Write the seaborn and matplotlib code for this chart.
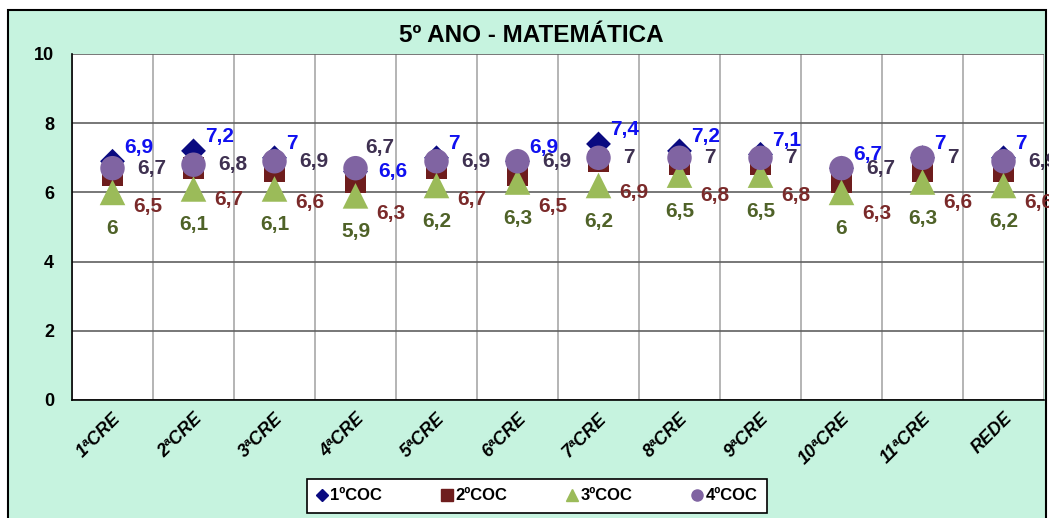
import numpy as np
import pandas as pd
import seaborn as sns
import matplotlib.pyplot as plt
from matplotlib.lines import Line2D
from matplotlib.patches import Rectangle

categorias = ["1ªCRE", "2ªCRE", "3ªCRE", "4ªCRE", "5ªCRE", "6ªCRE",
              "7ªCRE", "8ªCRE", "9ªCRE", "10ªCRE", "11ªCRE", "REDE"]
coc1 = [6.9, 7.2, 7.0, 6.6, 7.0, 6.9, 7.4, 7.2, 7.1, 6.7, 7.0, 7.0]
coc2 = [6.5, 6.7, 6.6, 6.3, 6.7, 6.5, 6.9, 6.8, 6.8, 6.3, 6.6, 6.6]
coc3 = [6.0, 6.1, 6.1, 5.9, 6.2, 6.3, 6.2, 6.5, 6.5, 6.0, 6.3, 6.2]
coc4 = [6.7, 6.8, 6.9, 6.7, 6.9, 6.9, 7.0, 7.0, 7.0, 6.7, 7.0, 6.9]
series = ["1ºCOC", "2ºCOC", "3ºCOC", "4ºCOC"]

df = pd.DataFrame({"cre": categorias * 4,
                   "nota": coc1 + coc2 + coc3 + coc4,
                   "serie": np.repeat(series, len(categorias))})

estilo = {
    "1ºCOC": dict(marker="D", s=160, cor="#0a0a80", txt="#1010f0", off=(12, 14), ha="left"),
    "2ºCOC": dict(marker="s", s=240, cor="#6e1d1d", txt="#7a2a2a", off=(21, -31), ha="left"),
    "3ºCOC": dict(marker="^", s=340, cor="#9bbb59", txt="#4f6228", off=(0, -36), ha="center"),
    "4ºCOC": dict(marker="o", s=310, cor="#8064a2", txt="#3f3151", off=(25, 0), ha="left"),
}
# rótulos trocados na 4ªCRE
troca = {("1ºCOC", 3): (23, 0), ("4ºCOC", 3): (10, 21)}

sns.set_style("white")
plt.rcParams["font.family"] = ["Liberation Sans", "DejaVu Sans"]
plt.rcParams["text.color"] = "black"
plt.rcParams["xtick.color"] = "black"
plt.rcParams["ytick.color"] = "black"

fig = plt.figure(figsize=(10.49, 5.18), dpi=100)
fig.patch.set_facecolor("white")
fundo = Rectangle((8 / 1049, -0.01), 1038 / 1049, 1 - 10 / 518 + 0.01,
                  transform=fig.transFigure, facecolor="#c6f3df",
                  edgecolor="black", linewidth=1.5, zorder=-5)
fig.patches.append(fundo)
ax = fig.add_axes([72 / 1049, 1 - 400 / 518, 972 / 1049, 346 / 518])
ax.set_zorder(2)
ax.set_facecolor("white")

for nome in series:
    e = estilo[nome]
    sub = df[df["serie"] == nome]
    sns.scatterplot(data=sub, x="cre", y="nota", marker=e["marker"], s=e["s"],
                    color=e["cor"], edgecolor="none", ax=ax, zorder=3, legend=False)
    for i, v in enumerate(sub["nota"]):
        off = troca.get((nome, i), e["off"])
        txt = f"{v:g}".replace(".", ",")
        ax.annotate(txt, (i, v), xytext=off, textcoords="offset pixels",
                    ha=e["ha"] if (nome, i) not in troca else "left", va="center",
                    color=e["txt"], fontsize=15, fontweight="bold",
                    annotation_clip=False, zorder=4)

ax.set_xlim(-0.5, 11.5)
ax.set_ylim(0, 10)
ax.set_yticks(range(0, 11, 2))
ax.set_xticks(range(len(categorias)))
ax.set_xticklabels(categorias, rotation=45, ha="right", rotation_mode="anchor",
                   fontsize=13, fontweight="bold", fontstyle="italic")
ax.set_xticks(np.arange(-0.5, 12, 1), minor=True)
ax.tick_params(axis="x", which="major", length=0, pad=7)
ax.tick_params(axis="x", which="minor", length=5, color="black", direction="out")
ax.tick_params(axis="y", length=5, color="black", direction="out", labelsize=13, pad=8)
for lab in ax.get_yticklabels():
    lab.set_fontweight("bold")
ax.grid(axis="y", which="major", color="#606060", linewidth=1.2)
ax.grid(axis="x", which="minor", color="#a8a8a8", linewidth=1.2)
ax.set_axisbelow(True)
for lado in ["top", "right"]:
    ax.spines[lado].set_visible(False)
for lado in ["left", "bottom"]:
    ax.spines[lado].set_color("black")
    ax.spines[lado].set_linewidth(1.2)
ax.set_xlabel("")
ax.set_ylabel("")

fig.text(531 / 1049, 1 - 35 / 518, "5º ANO - MATEMÁTICA", ha="center", va="center",
         fontsize=17.5, fontweight="bold")

handles = [Line2D([], [], linestyle="none", marker=estilo[n]["marker"],
                  color=estilo[n]["cor"], markersize=8 if n != "1ºCOC" else 6)
           for n in series]
leg = fig.legend(handles, series, loc="center", bbox_to_anchor=(537 / 1049, 1 - 496 / 518),
                 ncol=4, frameon=True, fancybox=False, edgecolor="black", framealpha=1,
                 handlelength=0.6, handletextpad=0.2, columnspacing=3.6, borderpad=0.55,
                 borderaxespad=0, prop={"weight": "bold", "size": 12})
leg.get_frame().set_linewidth(1.2)

fig.savefig("out.png", dpi=100, facecolor=fig.get_facecolor())
